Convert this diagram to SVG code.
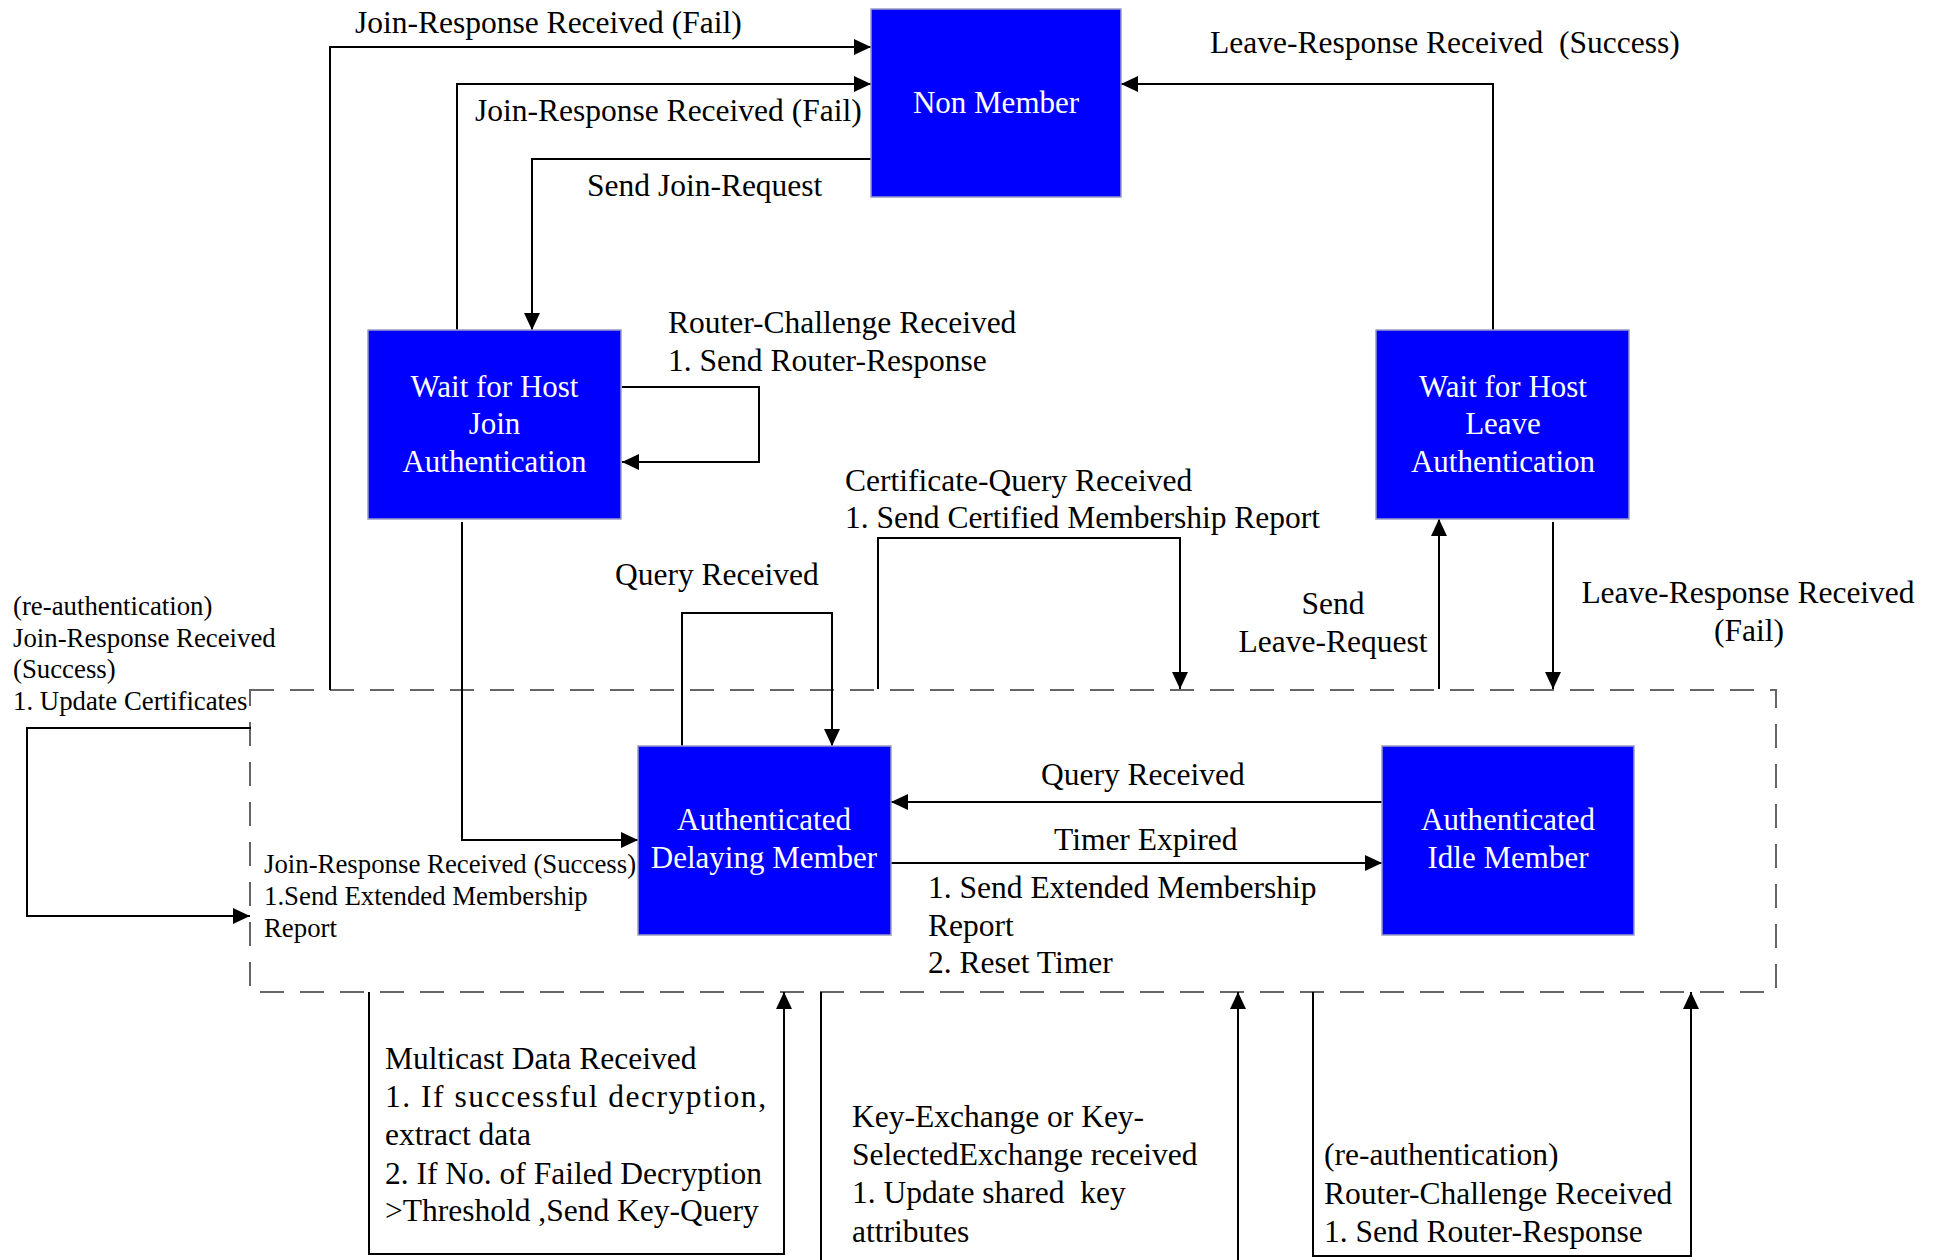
<svg xmlns="http://www.w3.org/2000/svg" width="1939" height="1260" viewBox="0 0 1939 1260">
  <style>
    .lbl { font-family: "Liberation Serif", "Times New Roman", serif; font-size: 31.5px; fill: #000; white-space: pre; }
    .sm { font-size: 26.8px; }
    .node rect { fill: #0000FF; stroke: #9a9ac8; stroke-width: 1.5; }
    .node text { font-family: "Liberation Serif", "Times New Roman", serif; font-size: 31px; fill: #fff; text-anchor: middle; }
    .conn path { fill: none; stroke: #000; stroke-width: 2; }
    .mid { text-anchor: middle; }
  </style>
  <defs>
    <marker id="arr" markerUnits="userSpaceOnUse" markerWidth="18" markerHeight="16" refX="17" refY="8" orient="auto">
      <path d="M0,0 L17,8 L0,16 z" fill="#000"/>
    </marker>
  </defs>
  <rect width="1939" height="1260" fill="#fff"/>

  <!-- membership region -->
  <rect id="member-region" x="250" y="690" width="1526" height="302" fill="none" stroke="#666" stroke-width="2" stroke-dasharray="24 16"/>

  <!-- connectors -->
  <g id="connectors" class="conn">
    <path d="M330,690 V47 H871" marker-end="url(#arr)"/>
    <path d="M457,330 V84 H871" marker-end="url(#arr)"/>
    <path d="M871,159 H532 V330" marker-end="url(#arr)"/>
    <path d="M1493,330 V84 H1121" marker-end="url(#arr)"/>
    <path d="M622,387 H759 V462 H622" marker-end="url(#arr)"/>
    <path d="M462,522 V840 H638" marker-end="url(#arr)"/>
    <path d="M251,728 H27 V916 H250" marker-end="url(#arr)"/>
    <path d="M682,746 V613 H832 V746" marker-end="url(#arr)"/>
    <path d="M878,689 V538 H1180 V689" marker-end="url(#arr)"/>
    <path d="M1439,689 V519" marker-end="url(#arr)"/>
    <path d="M1553,522 V689" marker-end="url(#arr)"/>
    <path d="M1382,802 H891" marker-end="url(#arr)"/>
    <path d="M891,863 H1382" marker-end="url(#arr)"/>
    <path d="M369,992 V1254 H784 V992" marker-end="url(#arr)"/>
    <path d="M821,992 V1260"/>
    <path d="M1238,1260 V992" marker-end="url(#arr)"/>
    <path d="M1313,992 V1256 H1691 V992" marker-end="url(#arr)"/>
  </g>

  <!-- states -->
  <g id="non-member" class="node">
    <rect x="871" y="9" width="250" height="188"/>
    <text x="996" y="113">Non Member</text>
  </g>
  <g id="wait-join" class="node">
    <rect x="368" y="330" width="253" height="189"/>
    <text x="494.5" y="397">Wait for Host</text>
    <text x="494.5" y="434">Join</text>
    <text x="494.5" y="472">Authentication</text>
  </g>
  <g id="wait-leave" class="node">
    <rect x="1376" y="330" width="253" height="189"/>
    <text x="1503" y="397">Wait for Host</text>
    <text x="1503" y="434">Leave</text>
    <text x="1503" y="472">Authentication</text>
  </g>
  <g id="auth-delaying" class="node">
    <rect x="638" y="746" width="253" height="189"/>
    <text x="764" y="830">Authenticated</text>
    <text x="764" y="868">Delaying Member</text>
  </g>
  <g id="auth-idle" class="node">
    <rect x="1382" y="746" width="252" height="189"/>
    <text x="1508" y="830">Authenticated</text>
    <text x="1508" y="868">Idle Member</text>
  </g>

  <!-- transition labels -->
  <g id="labels">
    <text class="lbl" x="355" y="33">Join-Response Received (Fail)</text>
    <text class="lbl" x="475" y="121">Join-Response Received (Fail)</text>
    <text class="lbl" x="587" y="196">Send Join-Request</text>
    <text class="lbl" x="1210" y="53">Leave-Response Received  (Success)</text>
    <text class="lbl" x="668" y="333">Router-Challenge Received</text>
    <text class="lbl" x="668" y="371">1. Send Router-Response</text>
    <text class="lbl" x="845" y="491">Certificate-Query Received</text>
    <text class="lbl" x="845" y="528">1. Send Certified Membership Report</text>
    <text class="lbl" x="615" y="585">Query Received</text>
    <text class="lbl mid" x="1333" y="614">Send</text>
    <text class="lbl mid" x="1333" y="652">Leave-Request</text>
    <text class="lbl mid" x="1748" y="603">Leave-Response Received</text>
    <text class="lbl mid" x="1749" y="641">(Fail)</text>

    <text class="lbl sm" x="13" y="615">(re-authentication)</text>
    <text class="lbl sm" x="13" y="647">Join-Response Received</text>
    <text class="lbl sm" x="13" y="678">(Success)</text>
    <text class="lbl sm" x="13" y="710">1. Update Certificates</text>

    <text class="lbl sm" x="264" y="873">Join-Response Received (Success)</text>
    <text class="lbl sm" x="264" y="905">1.Send Extended Membership</text>
    <text class="lbl sm" x="264" y="937">Report</text>

    <text class="lbl" x="1041" y="785">Query Received</text>
    <text class="lbl" x="1054" y="850">Timer Expired</text>
    <text class="lbl" x="928" y="898">1. Send Extended Membership</text>
    <text class="lbl" x="928" y="936">Report</text>
    <text class="lbl" x="928" y="973">2. Reset Timer</text>

    <text class="lbl" x="385" y="1069">Multicast Data Received</text>
    <text class="lbl" x="385" y="1107" textLength="381" lengthAdjust="spacing">1. If successful decryption,</text>
    <text class="lbl" x="385" y="1145">extract data</text>
    <text class="lbl" x="385" y="1184">2. If No. of Failed Decryption</text>
    <text class="lbl" x="385" y="1221">&gt;Threshold ,Send Key-Query</text>

    <text class="lbl" x="852" y="1127">Key-Exchange or Key-</text>
    <text class="lbl" x="852" y="1165">SelectedExchange received</text>
    <text class="lbl" x="852" y="1203">1. Update shared  key</text>
    <text class="lbl" x="852" y="1242">attributes</text>

    <text class="lbl" x="1324" y="1165">(re-authentication)</text>
    <text class="lbl" x="1324" y="1204">Router-Challenge Received</text>
    <text class="lbl" x="1324" y="1242">1. Send Router-Response</text>
  </g>
</svg>
